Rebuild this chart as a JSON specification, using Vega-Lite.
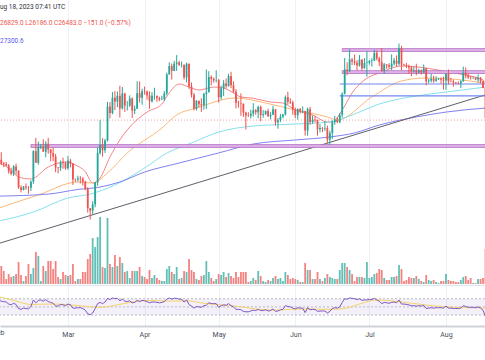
{
"$schema": "https://vega.github.io/schema/vega-lite/v6.json",
"width": 485, "height": 326,
"autosize": {"type": "none"},
"padding": {"left": 0, "top": 0, "right": 0, "bottom": 34},
"background": "#ffffff",
"config": {
  "view": {"stroke": null},
  "scale": {"continuousPadding": 0},
  "axisX": {"grid": true, "gridColor": "#edf1f7", "gridWidth": 1, "domain": true, "domainColor": "#cfd2d9", "domainWidth": 2, "ticks": false, "labelFontSize": 7, "labelFont": "Roboto", "labelColor": "#4a4e5a", "labelPadding": 4, "labelFlush": false, "labelOverlap": false, "labelBound": false}
},
"datasets": {
"bars": [
{"d":"2023-02-01","o":23125,"h":23800,"l":22760,"c":23730,"v":18,"r":67},
{"d":"2023-02-02","o":23730,"h":24250,"l":23370,"c":23490,"v":18,"r":64},
{"d":"2023-02-03","o":23490,"h":23580,"l":23220,"c":23430,"v":13,"r":63},
{"d":"2023-02-04","o":23430,"h":23580,"l":23260,"c":23330,"v":5,"r":62},
{"d":"2023-02-05","o":23330,"h":23430,"l":22760,"c":22930,"v":10,"r":57},
{"d":"2023-02-06","o":22930,"h":23160,"l":22640,"c":22760,"v":7,"r":55},
{"d":"2023-02-07","o":22760,"h":23350,"l":22600,"c":23260,"v":8,"r":59},
{"d":"2023-02-08","o":23260,"h":23450,"l":22680,"c":22960,"v":10,"r":56},
{"d":"2023-02-09","o":22960,"h":23000,"l":21700,"c":21800,"v":22,"r":46},
{"d":"2023-02-10","o":21800,"h":21950,"l":21460,"c":21630,"v":9,"r":44},
{"d":"2023-02-11","o":21630,"h":21900,"l":21600,"c":21860,"v":3,"r":47},
{"d":"2023-02-12","o":21860,"h":22080,"l":21640,"c":21790,"v":8,"r":46},
{"d":"2023-02-13","o":21790,"h":21900,"l":21360,"c":21780,"v":20,"r":45},
{"d":"2023-02-14","o":21780,"h":22300,"l":21550,"c":22200,"v":10,"r":51},
{"d":"2023-02-15","o":22200,"h":24380,"l":22050,"c":24330,"v":16,"r":67},
{"d":"2023-02-16","o":24330,"h":25250,"l":23500,"c":23520,"v":32,"r":60},
{"d":"2023-02-17","o":23520,"h":24990,"l":23380,"c":24570,"v":28,"r":66},
{"d":"2023-02-18","o":24570,"h":24830,"l":24460,"c":24630,"v":3,"r":67},
{"d":"2023-02-19","o":24630,"h":25150,"l":24300,"c":24280,"v":18,"r":64},
{"d":"2023-02-20","o":24280,"h":25020,"l":23900,"c":24840,"v":13,"r":68},
{"d":"2023-02-21","o":24840,"h":25250,"l":24150,"c":24440,"v":23,"r":63},
{"d":"2023-02-22","o":24440,"h":24480,"l":23620,"c":24190,"v":23,"r":61},
{"d":"2023-02-23","o":24190,"h":24580,"l":23630,"c":23950,"v":15,"r":59},
{"d":"2023-02-24","o":23950,"h":24140,"l":22860,"c":23190,"v":23,"r":52},
{"d":"2023-02-25","o":23190,"h":23220,"l":22780,"c":23160,"v":7,"r":52},
{"d":"2023-02-26","o":23160,"h":23670,"l":22950,"c":23550,"v":5,"r":56},
{"d":"2023-02-27","o":23550,"h":23870,"l":23100,"c":23490,"v":12,"r":55},
{"d":"2023-02-28","o":23490,"h":23600,"l":23030,"c":23130,"v":9,"r":53},
{"d":"2023-03-01","o":23130,"h":23990,"l":23030,"c":23650,"v":8,"r":57},
{"d":"2023-03-02","o":23650,"h":23790,"l":23190,"c":23470,"v":9,"r":55},
{"d":"2023-03-03","o":23470,"h":23480,"l":21980,"c":22360,"v":20,"r":47},
{"d":"2023-03-04","o":22360,"h":22420,"l":22190,"c":22350,"v":3,"r":47},
{"d":"2023-03-05","o":22350,"h":22620,"l":22200,"c":22430,"v":5,"r":48},
{"d":"2023-03-06","o":22430,"h":22590,"l":22080,"c":22410,"v":5,"r":48},
{"d":"2023-03-07","o":22410,"h":22530,"l":21930,"c":22200,"v":12,"r":46},
{"d":"2023-03-08","o":22200,"h":22270,"l":21600,"c":21700,"v":12,"r":42},
{"d":"2023-03-09","o":21700,"h":21810,"l":20050,"c":20360,"v":25,"r":33},
{"d":"2023-03-10","o":20360,"h":20370,"l":19570,"c":20190,"v":30,"r":31},
{"d":"2023-03-11","o":20190,"h":20850,"l":19940,"c":20630,"v":46,"r":35},
{"d":"2023-03-12","o":20630,"h":22180,"l":20420,"c":22160,"v":37,"r":46},
{"d":"2023-03-13","o":22160,"h":24560,"l":21920,"c":24200,"v":47,"r":58},
{"d":"2023-03-14","o":24200,"h":26500,"l":24090,"c":24750,"v":67,"r":61},
{"d":"2023-03-15","o":24750,"h":25230,"l":23940,"c":24380,"v":17,"r":58},
{"d":"2023-03-16","o":24380,"h":25180,"l":24200,"c":25060,"v":16,"r":62},
{"d":"2023-03-17","o":25060,"h":27750,"l":25000,"c":27420,"v":66,"r":71},
{"d":"2023-03-18","o":27420,"h":27740,"l":26600,"c":26970,"v":20,"r":68},
{"d":"2023-03-19","o":26970,"h":28430,"l":26890,"c":28040,"v":17,"r":72},
{"d":"2023-03-20","o":28040,"h":28490,"l":27180,"c":27770,"v":29,"r":70},
{"d":"2023-03-21","o":27770,"h":28470,"l":27380,"c":28170,"v":18,"r":71},
{"d":"2023-03-22","o":28170,"h":28870,"l":26650,"c":27300,"v":27,"r":65},
{"d":"2023-03-23","o":27300,"h":28780,"l":27210,"c":28330,"v":21,"r":69},
{"d":"2023-03-24","o":28330,"h":28380,"l":27050,"c":27490,"v":12,"r":64},
{"d":"2023-03-25","o":27490,"h":27800,"l":27150,"c":27490,"v":13,"r":63},
{"d":"2023-03-26","o":27490,"h":28200,"l":27400,"c":27990,"v":6,"r":65},
{"d":"2023-03-27","o":27990,"h":28050,"l":26630,"c":27140,"v":13,"r":60},
{"d":"2023-03-28","o":27140,"h":27500,"l":26900,"c":27270,"v":13,"r":61},
{"d":"2023-03-29","o":27270,"h":29180,"l":27260,"c":28350,"v":13,"r":66},
{"d":"2023-03-30","o":28350,"h":29170,"l":27700,"c":28030,"v":17,"r":63},
{"d":"2023-03-31","o":28030,"h":28660,"l":27550,"c":28480,"v":8,"r":66},
{"d":"2023-04-01","o":28480,"h":28810,"l":28250,"c":28470,"v":7,"r":65},
{"d":"2023-04-02","o":28470,"h":28540,"l":27900,"c":28200,"v":5,"r":63},
{"d":"2023-04-03","o":28200,"h":28480,"l":27270,"c":27800,"v":14,"r":60},
{"d":"2023-04-04","o":27800,"h":28430,"l":27700,"c":28170,"v":6,"r":62},
{"d":"2023-04-05","o":28170,"h":28730,"l":27900,"c":28170,"v":9,"r":62},
{"d":"2023-04-06","o":28170,"h":28180,"l":27750,"c":28030,"v":6,"r":61},
{"d":"2023-04-07","o":28030,"h":28110,"l":27800,"c":27920,"v":4,"r":60},
{"d":"2023-04-08","o":27920,"h":28170,"l":27880,"c":27950,"v":3,"r":61},
{"d":"2023-04-09","o":27950,"h":28500,"l":27800,"c":28340,"v":3,"r":63},
{"d":"2023-04-10","o":28340,"h":29770,"l":28200,"c":29650,"v":15,"r":69},
{"d":"2023-04-11","o":29650,"h":30500,"l":29650,"c":30240,"v":18,"r":72},
{"d":"2023-04-12","o":30240,"h":30420,"l":29300,"c":29900,"v":12,"r":69},
{"d":"2023-04-13","o":29900,"h":30600,"l":29900,"c":30400,"v":10,"r":71},
{"d":"2023-04-14","o":30400,"h":31000,"l":29900,"c":30490,"v":17,"r":71},
{"d":"2023-04-15","o":30490,"h":30610,"l":30250,"c":30320,"v":5,"r":69},
{"d":"2023-04-16","o":30320,"h":30550,"l":30150,"c":30330,"v":6,"r":69},
{"d":"2023-04-17","o":30330,"h":30330,"l":29300,"c":29450,"v":13,"r":62},
{"d":"2023-04-18","o":29450,"h":30480,"l":29100,"c":30400,"v":12,"r":67},
{"d":"2023-04-19","o":30400,"h":30420,"l":28650,"c":28820,"v":25,"r":56},
{"d":"2023-04-20","o":28820,"h":29100,"l":28050,"c":28250,"v":14,"r":52},
{"d":"2023-04-21","o":28250,"h":28370,"l":27160,"c":27270,"v":12,"r":47},
{"d":"2023-04-22","o":27270,"h":27880,"l":27150,"c":27820,"v":5,"r":51},
{"d":"2023-04-23","o":27820,"h":27820,"l":27360,"c":27590,"v":4,"r":50},
{"d":"2023-04-24","o":27590,"h":28000,"l":27050,"c":27520,"v":8,"r":49},
{"d":"2023-04-25","o":27520,"h":28370,"l":27200,"c":28310,"v":9,"r":53},
{"d":"2023-04-26","o":28310,"h":30000,"l":27260,"c":28420,"v":23,"r":54},
{"d":"2023-04-27","o":28420,"h":29880,"l":28400,"c":29480,"v":12,"r":60},
{"d":"2023-04-28","o":29480,"h":29600,"l":28900,"c":29340,"v":6,"r":58},
{"d":"2023-04-29","o":29340,"h":29450,"l":29080,"c":29250,"v":3,"r":58},
{"d":"2023-04-30","o":29250,"h":29950,"l":29100,"c":29270,"v":5,"r":58},
{"d":"2023-05-01","o":29270,"h":29340,"l":27700,"c":28070,"v":10,"r":49},
{"d":"2023-05-02","o":28070,"h":28880,"l":27900,"c":28680,"v":9,"r":53},
{"d":"2023-05-03","o":28680,"h":29260,"l":28160,"c":29030,"v":12,"r":55},
{"d":"2023-05-04","o":29030,"h":29370,"l":28670,"c":28850,"v":7,"r":54},
{"d":"2023-05-05","o":28850,"h":29700,"l":28800,"c":29540,"v":11,"r":58},
{"d":"2023-05-06","o":29540,"h":29840,"l":28700,"c":28900,"v":8,"r":53},
{"d":"2023-05-07","o":28900,"h":29180,"l":28380,"c":28450,"v":6,"r":50},
{"d":"2023-05-08","o":28450,"h":28640,"l":27300,"c":27690,"v":12,"r":44},
{"d":"2023-05-09","o":27690,"h":27830,"l":27350,"c":27660,"v":7,"r":44},
{"d":"2023-05-10","o":27660,"h":28340,"l":26780,"c":27620,"v":12,"r":43},
{"d":"2023-05-11","o":27620,"h":27640,"l":26700,"c":26990,"v":12,"r":39},
{"d":"2023-05-12","o":26990,"h":27070,"l":25820,"c":26800,"v":12,"r":38},
{"d":"2023-05-13","o":26800,"h":27030,"l":26700,"c":26780,"v":2,"r":38},
{"d":"2023-05-14","o":26780,"h":27200,"l":26600,"c":26930,"v":3,"r":40},
{"d":"2023-05-15","o":26930,"h":27660,"l":26720,"c":27170,"v":6,"r":42},
{"d":"2023-05-16","o":27170,"h":27250,"l":26850,"c":27030,"v":4,"r":41},
{"d":"2023-05-17","o":27030,"h":27480,"l":26600,"c":27400,"v":13,"r":44},
{"d":"2023-05-18","o":27400,"h":27500,"l":26400,"c":26830,"v":8,"r":41},
{"d":"2023-05-19","o":26830,"h":27180,"l":26650,"c":26890,"v":3,"r":41},
{"d":"2023-05-20","o":26890,"h":27150,"l":26840,"c":27110,"v":2,"r":43},
{"d":"2023-05-21","o":27110,"h":27270,"l":26700,"c":26750,"v":4,"r":40},
{"d":"2023-05-22","o":26750,"h":27030,"l":26530,"c":26850,"v":3,"r":41},
{"d":"2023-05-23","o":26850,"h":27480,"l":26840,"c":27230,"v":6,"r":45},
{"d":"2023-05-24","o":27230,"h":27240,"l":26100,"c":26330,"v":8,"r":39},
{"d":"2023-05-25","o":26330,"h":26630,"l":25880,"c":26480,"v":5,"r":40},
{"d":"2023-05-26","o":26480,"h":26910,"l":26350,"c":26720,"v":6,"r":43},
{"d":"2023-05-27","o":26720,"h":26910,"l":26600,"c":26870,"v":3,"r":44},
{"d":"2023-05-28","o":26870,"h":28200,"l":26800,"c":28080,"v":12,"r":53},
{"d":"2023-05-29","o":28080,"h":28450,"l":27560,"c":27750,"v":9,"r":51},
{"d":"2023-05-30","o":27750,"h":28000,"l":27600,"c":27700,"v":5,"r":50},
{"d":"2023-05-31","o":27700,"h":27830,"l":26850,"c":27220,"v":6,"r":47},
{"d":"2023-06-01","o":27220,"h":27350,"l":26620,"c":26820,"v":5,"r":45},
{"d":"2023-06-02","o":26820,"h":27300,"l":26520,"c":27250,"v":4,"r":48},
{"d":"2023-06-03","o":27250,"h":27330,"l":26950,"c":27070,"v":2,"r":47},
{"d":"2023-06-04","o":27070,"h":27430,"l":26970,"c":27120,"v":2,"r":47},
{"d":"2023-06-05","o":27120,"h":27120,"l":25400,"c":25760,"v":21,"r":36},
{"d":"2023-06-06","o":25760,"h":27350,"l":25400,"c":27240,"v":14,"r":48},
{"d":"2023-06-07","o":27240,"h":27400,"l":26150,"c":26350,"v":14,"r":43},
{"d":"2023-06-08","o":26350,"h":26800,"l":26220,"c":26500,"v":5,"r":44},
{"d":"2023-06-09","o":26500,"h":26780,"l":26320,"c":26480,"v":5,"r":44},
{"d":"2023-06-10","o":26480,"h":26520,"l":25400,"c":25850,"v":12,"r":39},
{"d":"2023-06-11","o":25850,"h":26200,"l":25630,"c":25940,"v":5,"r":40},
{"d":"2023-06-12","o":25940,"h":26000,"l":25650,"c":25900,"v":3,"r":40},
{"d":"2023-06-13","o":25900,"h":26400,"l":25730,"c":25930,"v":6,"r":40},
{"d":"2023-06-14","o":25930,"h":26100,"l":24860,"c":25120,"v":10,"r":35},
{"d":"2023-06-15","o":25120,"h":25750,"l":24760,"c":25580,"v":7,"r":39},
{"d":"2023-06-16","o":25580,"h":26470,"l":25170,"c":26340,"v":6,"r":46},
{"d":"2023-06-17","o":26340,"h":26770,"l":26150,"c":26510,"v":5,"r":48},
{"d":"2023-06-18","o":26510,"h":26700,"l":26270,"c":26340,"v":5,"r":47},
{"d":"2023-06-19","o":26340,"h":26980,"l":26270,"c":26850,"v":14,"r":50},
{"d":"2023-06-20","o":26850,"h":28400,"l":26650,"c":28310,"v":21,"r":61},
{"d":"2023-06-21","o":28310,"h":30800,"l":28270,"c":30000,"v":21,"r":70},
{"d":"2023-06-22","o":30000,"h":30500,"l":29600,"c":29890,"v":17,"r":69},
{"d":"2023-06-23","o":29890,"h":31400,"l":29820,"c":30700,"v":14,"r":72},
{"d":"2023-06-24","o":30700,"h":30800,"l":30300,"c":30550,"v":10,"r":71},
{"d":"2023-06-25","o":30550,"h":31030,"l":30300,"c":30470,"v":3,"r":70},
{"d":"2023-06-26","o":30470,"h":30650,"l":29940,"c":30270,"v":7,"r":68},
{"d":"2023-06-27","o":30270,"h":31000,"l":30200,"c":30690,"v":7,"r":70},
{"d":"2023-06-28","o":30690,"h":30700,"l":29920,"c":30090,"v":7,"r":66},
{"d":"2023-06-29","o":30090,"h":30800,"l":30050,"c":30450,"v":6,"r":67},
{"d":"2023-06-30","o":30450,"h":31270,"l":29500,"c":30480,"v":22,"r":67},
{"d":"2023-07-01","o":30480,"h":30650,"l":30330,"c":30590,"v":6,"r":68},
{"d":"2023-07-02","o":30590,"h":30780,"l":30200,"c":30620,"v":7,"r":68},
{"d":"2023-07-03","o":30620,"h":31380,"l":30580,"c":31160,"v":10,"r":71},
{"d":"2023-07-04","o":31160,"h":31330,"l":30630,"c":30770,"v":11,"r":67},
{"d":"2023-07-05","o":30770,"h":30880,"l":30230,"c":30510,"v":15,"r":64},
{"d":"2023-07-06","o":30510,"h":31500,"l":29850,"c":29890,"v":14,"r":58},
{"d":"2023-07-07","o":29890,"h":30450,"l":29700,"c":30350,"v":6,"r":61},
{"d":"2023-07-08","o":30350,"h":30380,"l":30050,"c":30290,"v":4,"r":60},
{"d":"2023-07-09","o":30290,"h":30440,"l":30050,"c":30170,"v":4,"r":59},
{"d":"2023-07-10","o":30170,"h":31050,"l":29950,"c":30410,"v":7,"r":61},
{"d":"2023-07-11","o":30410,"h":30800,"l":30280,"c":30620,"v":7,"r":62},
{"d":"2023-07-12","o":30620,"h":30980,"l":30200,"c":30390,"v":8,"r":60},
{"d":"2023-07-13","o":30390,"h":31800,"l":30250,"c":31480,"v":19,"r":67},
{"d":"2023-07-14","o":31480,"h":31640,"l":29950,"c":30330,"v":15,"r":57},
{"d":"2023-07-15","o":30330,"h":30400,"l":30250,"c":30300,"v":3,"r":57},
{"d":"2023-07-16","o":30300,"h":30450,"l":30090,"c":30250,"v":4,"r":56},
{"d":"2023-07-17","o":30250,"h":30340,"l":29700,"c":30140,"v":7,"r":55},
{"d":"2023-07-18","o":30140,"h":30250,"l":29530,"c":29860,"v":6,"r":53},
{"d":"2023-07-19","o":29860,"h":30200,"l":29780,"c":29910,"v":6,"r":53},
{"d":"2023-07-20","o":29910,"h":30400,"l":29600,"c":29800,"v":8,"r":52},
{"d":"2023-07-21","o":29800,"h":30050,"l":29730,"c":29910,"v":5,"r":53},
{"d":"2023-07-22","o":29910,"h":30000,"l":29650,"c":29790,"v":3,"r":52},
{"d":"2023-07-23","o":29790,"h":30350,"l":29750,"c":30080,"v":2,"r":54},
{"d":"2023-07-24","o":30080,"h":30100,"l":28900,"c":29180,"v":9,"r":46},
{"d":"2023-07-25","o":29180,"h":29350,"l":29050,"c":29230,"v":4,"r":47},
{"d":"2023-07-26","o":29230,"h":29700,"l":29100,"c":29350,"v":3,"r":48},
{"d":"2023-07-27","o":29350,"h":29570,"l":29070,"c":29210,"v":4,"r":47},
{"d":"2023-07-28","o":29210,"h":29530,"l":29130,"c":29320,"v":2,"r":48},
{"d":"2023-07-29","o":29320,"h":29410,"l":29270,"c":29360,"v":1,"r":48},
{"d":"2023-07-30","o":29360,"h":29450,"l":29030,"c":29280,"v":3,"r":48},
{"d":"2023-07-31","o":29280,"h":29510,"l":28600,"c":29230,"v":3,"r":47},
{"d":"2023-08-01","o":29230,"h":29730,"l":28590,"c":29700,"v":10,"r":52},
{"d":"2023-08-02","o":29700,"h":30000,"l":28950,"c":29180,"v":4,"r":47},
{"d":"2023-08-03","o":29180,"h":29420,"l":29110,"c":29170,"v":3,"r":47},
{"d":"2023-08-04","o":29170,"h":29300,"l":28800,"c":29090,"v":3,"r":46},
{"d":"2023-08-05","o":29090,"h":29130,"l":28980,"c":29050,"v":2,"r":46},
{"d":"2023-08-06","o":29050,"h":29170,"l":28960,"c":29040,"v":2,"r":46},
{"d":"2023-08-07","o":29040,"h":29250,"l":28700,"c":29180,"v":4,"r":47},
{"d":"2023-08-08","o":29180,"h":30200,"l":29150,"c":29770,"v":7,"r":53},
{"d":"2023-08-09","o":29770,"h":30140,"l":29380,"c":29580,"v":8,"r":51},
{"d":"2023-08-10","o":29580,"h":29740,"l":29350,"c":29430,"v":4,"r":49},
{"d":"2023-08-11","o":29430,"h":29550,"l":29300,"c":29400,"v":6,"r":49},
{"d":"2023-08-12","o":29400,"h":29470,"l":29350,"c":29420,"v":1,"r":49},
{"d":"2023-08-13","o":29420,"h":29460,"l":29250,"c":29300,"v":1,"r":48},
{"d":"2023-08-14","o":29300,"h":29650,"l":29100,"c":29430,"v":5,"r":50},
{"d":"2023-08-15","o":29430,"h":29480,"l":29050,"c":29170,"v":5,"r":47},
{"d":"2023-08-16","o":29170,"h":29230,"l":28700,"c":28710,"v":6,"r":42},
{"d":"2023-08-17","o":28710,"h":28780,"l":25170,"c":26630,"v":35,"r":26}
],
"ma": [
{"k":"ma20","d":"2023-02-01","p":23500},{"k":"ma20","d":"2023-02-05","p":23150},{"k":"ma20","d":"2023-02-09","p":22530},{"k":"ma20","d":"2023-02-14","p":22390},{"k":"ma20","d":"2023-02-21","p":23220},{"k":"ma20","d":"2023-02-28","p":23570},{"k":"ma20","d":"2023-03-04","p":23360},{"k":"ma20","d":"2023-03-08","p":22900},{"k":"ma20","d":"2023-03-11","p":22110},{"k":"ma20","d":"2023-03-14","p":22460},{"k":"ma20","d":"2023-03-18","p":23920},{"k":"ma20","d":"2023-03-22","p":25100},{"k":"ma20","d":"2023-03-26","p":26000},{"k":"ma20","d":"2023-04-02","p":27040},{"k":"ma20","d":"2023-04-08","p":27600},{"k":"ma20","d":"2023-04-11","p":28370},{"k":"ma20","d":"2023-04-15","p":28990},{"k":"ma20","d":"2023-04-19","p":28780},{"k":"ma20","d":"2023-04-23","p":28570},{"k":"ma20","d":"2023-04-29","p":28780},{"k":"ma20","d":"2023-05-03","p":28710},{"k":"ma20","d":"2023-05-07","p":28370},{"k":"ma20","d":"2023-05-10","p":28090},{"k":"ma20","d":"2023-05-15","p":28000},{"k":"ma20","d":"2023-05-22","p":27740},{"k":"ma20","d":"2023-05-27","p":27670},{"k":"ma20","d":"2023-06-01","p":27180},{"k":"ma20","d":"2023-06-08","p":26840},{"k":"ma20","d":"2023-06-14","p":26350},{"k":"ma20","d":"2023-06-16","p":26350},{"k":"ma20","d":"2023-06-20","p":27180},{"k":"ma20","d":"2023-06-24","p":28370},{"k":"ma20","d":"2023-06-29","p":29270},{"k":"ma20","d":"2023-07-06","p":29820},{"k":"ma20","d":"2023-07-14","p":30240},{"k":"ma20","d":"2023-07-24","p":30100},{"k":"ma20","d":"2023-08-02","p":29820},{"k":"ma20","d":"2023-08-09","p":29610},{"k":"ma20","d":"2023-08-16","p":29270},{"k":"ma20","d":"2023-08-17","p":29050},
{"k":"ma50","d":"2023-02-01","p":20370},{"k":"ma50","d":"2023-02-17","p":21280},{"k":"ma50","d":"2023-03-05","p":22180},{"k":"ma50","d":"2023-03-11","p":22110},{"k":"ma50","d":"2023-03-17","p":22810},{"k":"ma50","d":"2023-03-25","p":24200},{"k":"ma50","d":"2023-04-08","p":25930},{"k":"ma50","d":"2023-04-14","p":26840},{"k":"ma50","d":"2023-04-22","p":27320},{"k":"ma50","d":"2023-05-08","p":28020},{"k":"ma50","d":"2023-05-20","p":27670},{"k":"ma50","d":"2023-06-01","p":27180},{"k":"ma50","d":"2023-06-14","p":26700},{"k":"ma50","d":"2023-06-18","p":26490},{"k":"ma50","d":"2023-07-02","p":28090},{"k":"ma50","d":"2023-07-14","p":29200},{"k":"ma50","d":"2023-07-24","p":29410},{"k":"ma50","d":"2023-08-16","p":29060},{"k":"ma50","d":"2023-08-17","p":28960},
{"k":"ma100","d":"2023-02-01","p":19470},{"k":"ma100","d":"2023-02-15","p":20090},{"k":"ma100","d":"2023-03-01","p":21070},{"k":"ma100","d":"2023-03-10","p":21340},{"k":"ma100","d":"2023-03-20","p":21970},{"k":"ma100","d":"2023-04-01","p":23150},{"k":"ma100","d":"2023-04-10","p":24190},{"k":"ma100","d":"2023-04-20","p":24890},{"k":"ma100","d":"2023-05-01","p":25650},{"k":"ma100","d":"2023-05-15","p":26070},{"k":"ma100","d":"2023-06-01","p":26210},{"k":"ma100","d":"2023-06-15","p":26350},{"k":"ma100","d":"2023-06-25","p":26910},{"k":"ma100","d":"2023-07-05","p":27600},{"k":"ma100","d":"2023-07-20","p":28160},{"k":"ma100","d":"2023-08-01","p":28430},{"k":"ma100","d":"2023-08-17","p":28780},
{"k":"ma200","d":"2023-02-01","p":21200},{"k":"ma200","d":"2023-02-21","p":21340},{"k":"ma200","d":"2023-03-05","p":21660},{"k":"ma200","d":"2023-03-14","p":21830},{"k":"ma200","d":"2023-03-22","p":22180},{"k":"ma200","d":"2023-04-01","p":22870},{"k":"ma200","d":"2023-04-15","p":23500},{"k":"ma200","d":"2023-05-01","p":24200},{"k":"ma200","d":"2023-05-15","p":24820},{"k":"ma200","d":"2023-06-01","p":25100},{"k":"ma200","d":"2023-06-15","p":25310},{"k":"ma200","d":"2023-06-25","p":25590},{"k":"ma200","d":"2023-07-05","p":26140},{"k":"ma200","d":"2023-07-20","p":26700},{"k":"ma200","d":"2023-08-01","p":27040},{"k":"ma200","d":"2023-08-17","p":27320}
],
"rsima": [
{"d":"2023-02-01","r":75},{"d":"2023-02-07","r":66},{"d":"2023-02-14","r":56},{"d":"2023-02-21","r":57},{"d":"2023-02-28","r":56},{"d":"2023-03-07","r":52},{"d":"2023-03-14","r":49},{"d":"2023-03-21","r":55},{"d":"2023-03-28","r":63},{"d":"2023-04-04","r":66},{"d":"2023-04-11","r":64},{"d":"2023-04-18","r":65},{"d":"2023-04-25","r":59},{"d":"2023-05-02","r":55},{"d":"2023-05-09","r":51},{"d":"2023-05-16","r":45},{"d":"2023-05-23","r":42},{"d":"2023-05-30","r":44},{"d":"2023-06-06","r":45},{"d":"2023-06-13","r":44},{"d":"2023-06-20","r":45},{"d":"2023-06-27","r":57},{"d":"2023-07-04","r":67},{"d":"2023-07-11","r":64},{"d":"2023-07-18","r":59},{"d":"2023-07-25","r":54},{"d":"2023-08-01","r":50},{"d":"2023-08-08","r":48},{"d":"2023-08-15","r":48},{"d":"2023-08-17","r":46}
],
"zones": [
{"d0":"2023-06-20","d1":"2023-08-17","lo":31250,"hi":31450},
{"d0":"2023-06-20","d1":"2023-08-17","lo":29720,"hi":29920},
{"d0":"2023-02-14","d1":"2023-08-17","lo":24580,"hi":24780}
],
"hlines": [
{"d0":"2023-06-19","d1":"2023-08-17","p":28990},
{"d0":"2023-06-19","d1":"2023-08-17","p":28160}
],
"trend": [
{"d":"2023-02-01","p":17910},
{"d":"2023-08-17","p":28237}
]
},
"layer": [
{
  "layer": [
    {
      "data": {"name": "bars"},
      "mark": {"type": "bar", "size": 1.8, "opacity": 0.72, "clip": true},
      "encoding": {
        "x": {"field": "d", "type": "temporal", "title": null, "scale": {"type": "utc", "nice": false, "padding": 0, "domain": [{"year": 2023, "month": 2, "date": 1, "hours": 11, "minutes": 40, "utc": true}, {"year": 2023, "month": 8, "date": 16, "hours": 19, "minutes": 10, "utc": true}]}, "axis": {"values": [{"year": 2023, "month": 3, "date": 1, "utc": true}, {"year": 2023, "month": 4, "date": 1, "utc": true}, {"year": 2023, "month": 5, "date": 1, "utc": true}, {"year": 2023, "month": 6, "date": 1, "utc": true}, {"year": 2023, "month": 7, "date": 1, "utc": true}, {"year": 2023, "month": 8, "date": 1, "utc": true}], "format": "%b"}},
        "y": {"field": "v", "type": "quantitative", "scale": {"domain": [-42, 284], "nice": false, "zero": false, "padding": 0}, "axis": null},
        "y2": {"datum": 0},
        "color": {"condition": {"test": "datum.c >= datum.o", "value": "#26a69a"}, "value": "#ef5350"}
      }
    },
    {
      "data": {"values": [{}]},
      "mark": {"type": "rule", "color": "#e0e3eb", "strokeWidth": 1},
      "encoding": {"y": {"datum": -1.5, "type": "quantitative", "scale": {"domain": [-42, 284], "nice": false, "zero": false, "padding": 0}, "axis": null}}
    }
  ]
},
{
  "layer": [
    {
      "data": {"name": "ma"},
      "mark": {"type": "line", "strokeWidth": 1, "interpolate": "monotone", "clip": true, "opacity": 0.9},
      "encoding": {
        "x": {"field": "d", "type": "temporal", "title": null, "scale": {"type": "utc", "nice": false, "padding": 0, "domain": [{"year": 2023, "month": 2, "date": 1, "hours": 11, "minutes": 40, "utc": true}, {"year": 2023, "month": 8, "date": 16, "hours": 19, "minutes": 10, "utc": true}]}},
        "y": {"field": "p", "type": "quantitative", "scale": {"domain": [12172, 34829], "nice": false, "zero": false, "padding": 0}, "axis": {"values": [16000, 18000, 20000, 22000, 24000, 26000, 28000, 30000, 32000, 34000], "grid": true, "gridColor": "#edf1f7", "labels": false, "ticks": false, "domain": false, "title": null}},
        "color": {"field": "k", "type": "nominal", "scale": {"domain": ["ma20", "ma50", "ma100", "ma200"], "range": ["#f4777a", "#f9b06c", "#7adcea", "#7373f0"]}, "legend": null}
      }
    },
    {
      "data": {"name": "trend"},
      "mark": {"type": "line", "color": "#5d606b", "strokeWidth": 1, "clip": true},
      "encoding": {
        "x": {"field": "d", "type": "temporal", "title": null},
        "y": {"field": "p", "type": "quantitative", "scale": {"domain": [12172, 34829], "nice": false, "zero": false, "padding": 0}, "axis": null}
      }
    },
    {
      "data": {"name": "zones"},
      "mark": {"type": "rect", "fill": "#dcb3e4", "stroke": "#b060c4", "strokeWidth": 0.7, "clip": true},
      "encoding": {
        "x": {"field": "d0", "type": "temporal", "title": null},
        "x2": {"field": "d1"},
        "y": {"field": "lo", "type": "quantitative", "scale": {"domain": [12172, 34829], "nice": false, "zero": false, "padding": 0}, "axis": null},
        "y2": {"field": "hi"}
      }
    },
    {
      "data": {"name": "hlines"},
      "mark": {"type": "rule", "color": "#7088f0", "strokeWidth": 1.2, "clip": true},
      "encoding": {
        "x": {"field": "d0", "type": "temporal", "title": null},
        "x2": {"field": "d1"},
        "y": {"field": "p", "type": "quantitative", "scale": {"domain": [12172, 34829], "nice": false, "zero": false, "padding": 0}, "axis": null}
      }
    },
    {
      "data": {"values": [{"p": 26483}]},
      "mark": {"type": "rule", "color": "#ef5350", "strokeWidth": 1, "strokeDash": [1, 2], "opacity": 0.55},
      "encoding": {
        "y": {"field": "p", "type": "quantitative", "scale": {"domain": [12172, 34829], "nice": false, "zero": false, "padding": 0}, "axis": null}
      }
    },
    {
      "data": {"name": "bars"},
      "mark": {"type": "rule", "strokeWidth": 1, "clip": true},
      "encoding": {
        "x": {"field": "d", "type": "temporal", "title": null},
        "y": {"field": "l", "type": "quantitative", "scale": {"domain": [12172, 34829], "nice": false, "zero": false, "padding": 0}, "axis": null},
        "y2": {"field": "h"},
        "color": {"condition": {"test": "datum.c >= datum.o", "value": "#26a69a"}, "value": "#ef5350"}
      }
    },
    {
      "data": {"name": "bars"},
      "mark": {"type": "bar", "size": 1.8, "clip": true},
      "encoding": {
        "x": {"field": "d", "type": "temporal", "title": null},
        "y": {"field": "o", "type": "quantitative", "scale": {"domain": [12172, 34829], "nice": false, "zero": false, "padding": 0}, "axis": null},
        "y2": {"field": "c"},
        "color": {"condition": {"test": "datum.c >= datum.o", "value": "#26a69a"}, "value": "#ef5350"}
      }
    },
    {
      "data": {"values": [{"t": "ug 18, 2023 07:41 UTC"}]},
      "mark": {"type": "text", "align": "left", "baseline": "middle", "fontSize": 6.5, "font": "Roboto", "color": "#2a2e39"},
      "encoding": {
        "x": {"datum": {"year": 2023, "month": 2, "date": 1, "hours": 11, "minutes": 40, "utc": true}, "type": "temporal"},
        "y": {"datum": 34320, "type": "quantitative", "scale": {"domain": [12172, 34829], "nice": false, "zero": false, "padding": 0}, "axis": null},
        "text": {"field": "t"}
      }
    },
    {
      "data": {"values": [{"t": "26829.0  L26186.0  C26483.0  −151.0 (−0.57%)"}]},
      "mark": {"type": "text", "align": "left", "baseline": "middle", "fontSize": 6.5, "font": "Roboto", "color": "#ef5350"},
      "encoding": {
        "x": {"datum": {"year": 2023, "month": 2, "date": 1, "hours": 11, "minutes": 40, "utc": true}, "type": "temporal"},
        "y": {"datum": 33230, "type": "quantitative", "scale": {"domain": [12172, 34829], "nice": false, "zero": false, "padding": 0}, "axis": null},
        "text": {"field": "t"}
      }
    },
    {
      "data": {"values": [{"t": "27300.6"}]},
      "mark": {"type": "text", "align": "left", "baseline": "middle", "fontSize": 6.5, "font": "Roboto", "color": "#5a5af0"},
      "encoding": {
        "x": {"datum": {"year": 2023, "month": 2, "date": 1, "hours": 11, "minutes": 40, "utc": true}, "type": "temporal"},
        "y": {"datum": 31980, "type": "quantitative", "scale": {"domain": [12172, 34829], "nice": false, "zero": false, "padding": 0}, "axis": null},
        "text": {"field": "t"}
      }
    }
  ]
},
{
  "layer": [
    {
      "data": {"values": [{}]},
      "mark": {"type": "rect", "color": "#7e57c2", "opacity": 0.09},
      "encoding": {
        "y": {"datum": 70, "type": "quantitative", "scale": {"domain": [3.13, 803.1], "nice": false, "zero": false, "padding": 0}, "axis": null},
        "y2": {"datum": 30}
      }
    },
    {
      "data": {"values": [{"lv": 70}, {"lv": 50}, {"lv": 30}]},
      "mark": {"type": "rule", "color": "#9598a1", "strokeWidth": 0.8, "strokeDash": [2, 2], "opacity": 0.8},
      "encoding": {
        "y": {"field": "lv", "type": "quantitative", "scale": {"domain": [3.13, 803.1], "nice": false, "zero": false, "padding": 0}, "axis": null}
      }
    },
    {
      "data": {"name": "rsima"},
      "mark": {"type": "line", "color": "#f5d36a", "strokeWidth": 1, "interpolate": "monotone", "clip": true},
      "encoding": {
        "x": {"field": "d", "type": "temporal", "title": null},
        "y": {"field": "r", "type": "quantitative", "scale": {"domain": [3.13, 803.1], "nice": false, "zero": false, "padding": 0}, "axis": null}
      }
    },
    {
      "data": {"name": "bars"},
      "mark": {"type": "line", "color": "#7e57c2", "strokeWidth": 1, "clip": true},
      "encoding": {
        "x": {"field": "d", "type": "temporal", "title": null},
        "y": {"field": "r", "type": "quantitative", "scale": {"domain": [3.13, 803.1], "nice": false, "zero": false, "padding": 0}, "axis": null}
      }
    },
    {
      "data": {"values": [{"t": "Feb"}]},
      "mark": {"type": "text", "align": "center", "baseline": "middle", "fontSize": 7, "font": "Roboto", "color": "#4a4e5a"},
      "encoding": {
        "x": {"datum": {"year": 2023, "month": 2, "date": 1, "utc": true}, "type": "temporal"},
        "y": {"datum": -15, "type": "quantitative", "scale": {"domain": [3.13, 803.1], "nice": false, "zero": false, "padding": 0}, "axis": null},
        "text": {"field": "t"}
      }
    }
  ]
}
],
"resolve": {"scale": {"y": "independent"}}
}
